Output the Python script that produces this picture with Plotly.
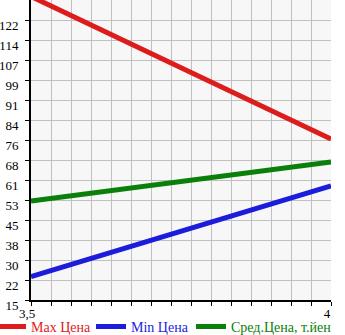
import plotly.graph_objects as go

x_vals = [3.5, 4]
max_price = [131.0, 76.5]
min_price = [23.9, 58.6]
avg_price = [52.8, 67.7]
y_tick_labels = ["15", "22", "30", "38", "45", "53", "61", "68", "76", "84", "91", "99", "107", "114", "122"]
x_tick_labels = ["3,5", "4"]

y0 = 15.0
ystep = 107.0 / 14
y_ticks = [y0 + i * ystep for i in range(len(y_tick_labels))]

FONT = "Liberation Serif"

fig = go.Figure()
series = [
    ("Max Цена", max_price, "#dd1c1c", "legend", -0.1333),
    ("Min Цена", min_price, "#1c1cdd", "legend2", 0.2),
    ("Сред.Цена, т.йен", avg_price, "#0a800a", "legend3", 0.5333),
]
legend_common = dict(orientation="h", xanchor="left", yref="paper", y=-0.036, yanchor="top",
                     font=dict(family=FONT, size=14), bgcolor="rgba(0,0,0,0)")
layout_legends = {}
for name, vals, col, lg, lx in series:
    fig.add_trace(go.Scatter(
        x=x_vals, y=vals, mode="lines", name=f"<span style='color:{col}'>{name}</span>",
        line=dict(color=col, width=5), cliponaxis=True, legend=lg,
    ))
    layout_legends[lg] = dict(legend_common, x=lx)

fig.update_layout(
    width=345, height=335,
    margin=dict(l=31, r=14, t=0, b=35, autoexpand=False),
    plot_bgcolor="#f7f7f7", paper_bgcolor="white",
    font=dict(family=FONT, size=13, color="black"),
    showlegend=True,
    **layout_legends,
)
fig.update_xaxes(
    range=[3.5, 4], tickvals=x_vals, ticktext=x_tick_labels,
    showgrid=False, zeroline=False,
    showline=True, linecolor="black", linewidth=2,
    ticks="outside", ticklen=4, tickcolor="black",
    minor=dict(dtick=0.5 / 15, tick0=3.5, showgrid=True, gridcolor="#c0c0c0", gridwidth=1,
               ticks="outside", ticklen=4, tickcolor="black"),
    ticklabelshift=-4, ticklabelstandoff=-4,
)
fig.update_yaxes(
    range=[y0, y0 + 300 * (107.0 / 280)], tickvals=y_ticks, ticktext=y_tick_labels,
    showgrid=True, gridcolor="#c0c0c0", gridwidth=1, zeroline=False,
    showline=True, linecolor="black", linewidth=2,
    ticks="outside", ticklen=4, tickcolor="black",
    ticklabelshift=5, ticklabelstandoff=4,
)
fig.write_html("out.html")
